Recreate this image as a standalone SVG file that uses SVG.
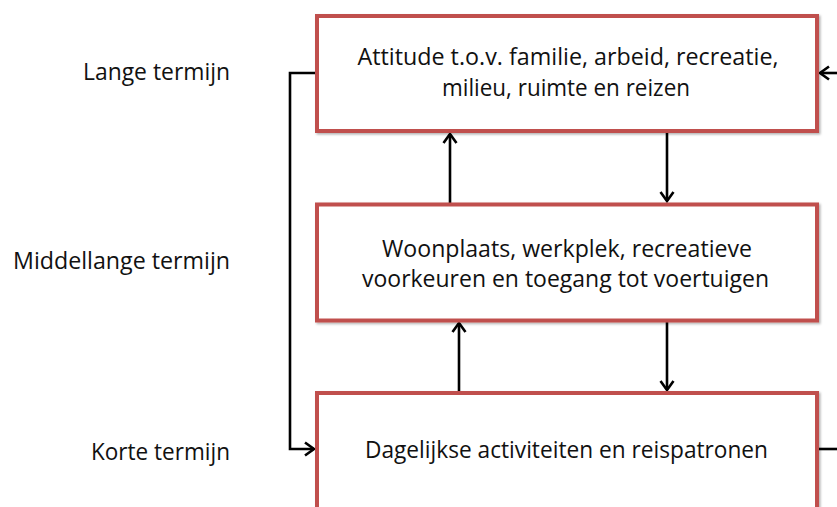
<svg xmlns="http://www.w3.org/2000/svg" width="837" height="507" viewBox="0 0 837 507">
  <style>
    .box { fill: #ffffff; stroke: #C0504D; stroke-width: 4; filter: url(#shadow); }
    .t { font-family: "Open Sans", "Liberation Sans", sans-serif; font-size: 23px; fill: #111111; }
    .c { text-anchor: middle; }
    .r { text-anchor: end; }
    .conn { fill: none; stroke: #000000; stroke-width: 2.6; }
  </style>
  <defs>
    <filter id="shadow" x="-5%" y="-5%" width="110%" height="115%">
      <feDropShadow dx="1.5" dy="1.5" stdDeviation="1" flood-color="#000" flood-opacity="0.3"/>
    </filter>
    <marker id="arr" markerUnits="userSpaceOnUse" markerWidth="16" markerHeight="16" viewBox="-12 -8 14 16" refX="0" refY="0" orient="auto">
      <path d="M-9,-6.5 L0,0 L-9,6.5" fill="none" stroke="#000" stroke-width="2.6" stroke-linejoin="miter"/>
    </marker>
  </defs>

  <g id="labels">
    <text class="t r" x="230" y="80" textLength="147" lengthAdjust="spacingAndGlyphs">Lange termijn</text>
    <text class="t r" x="230" y="269" textLength="217" lengthAdjust="spacingAndGlyphs">Middellange termijn</text>
    <text class="t r" x="230" y="460" textLength="139" lengthAdjust="spacingAndGlyphs">Korte termijn</text>
  </g>

  <g id="connectors">
    <line class="conn" x1="450" y1="203" x2="450" y2="134" marker-end="url(#arr)"/>
    <line class="conn" x1="667" y1="132" x2="667" y2="201" marker-end="url(#arr)"/>
    <line class="conn" x1="459" y1="391" x2="459" y2="323" marker-end="url(#arr)"/>
    <line class="conn" x1="667" y1="321" x2="667" y2="390" marker-end="url(#arr)"/>
    <polyline class="conn" points="316,73 290,73 290,449 314,449" marker-end="url(#arr)"/>
    <line class="conn" x1="837" y1="73" x2="820" y2="73" marker-end="url(#arr)"/>
    <line class="conn" x1="818" y1="449" x2="837" y2="449"/>
  </g>

  <g id="node-lange">
    <rect class="box" x="317" y="16" width="500" height="115"/>
    <text class="t c" x="568" y="65" textLength="421" lengthAdjust="spacingAndGlyphs">Attitude t.o.v. familie, arbeid, recreatie,</text>
    <text class="t c" x="566" y="96" textLength="248" lengthAdjust="spacingAndGlyphs">milieu, ruimte en reizen</text>
  </g>

  <g id="node-middel">
    <rect class="box" x="317" y="204.5" width="500" height="116"/>
    <text class="t c" x="567" y="257" textLength="370" lengthAdjust="spacingAndGlyphs">Woonplaats, werkplek, recreatieve</text>
    <text class="t c" x="565.5" y="287" textLength="407" lengthAdjust="spacingAndGlyphs">voorkeuren en toegang tot voertuigen</text>
  </g>

  <g id="node-kort">
    <rect class="box" x="317" y="393" width="500" height="125"/>
    <text class="t c" x="566.5" y="458" textLength="403" lengthAdjust="spacingAndGlyphs">Dagelijkse activiteiten en reispatronen</text>
  </g>
</svg>
